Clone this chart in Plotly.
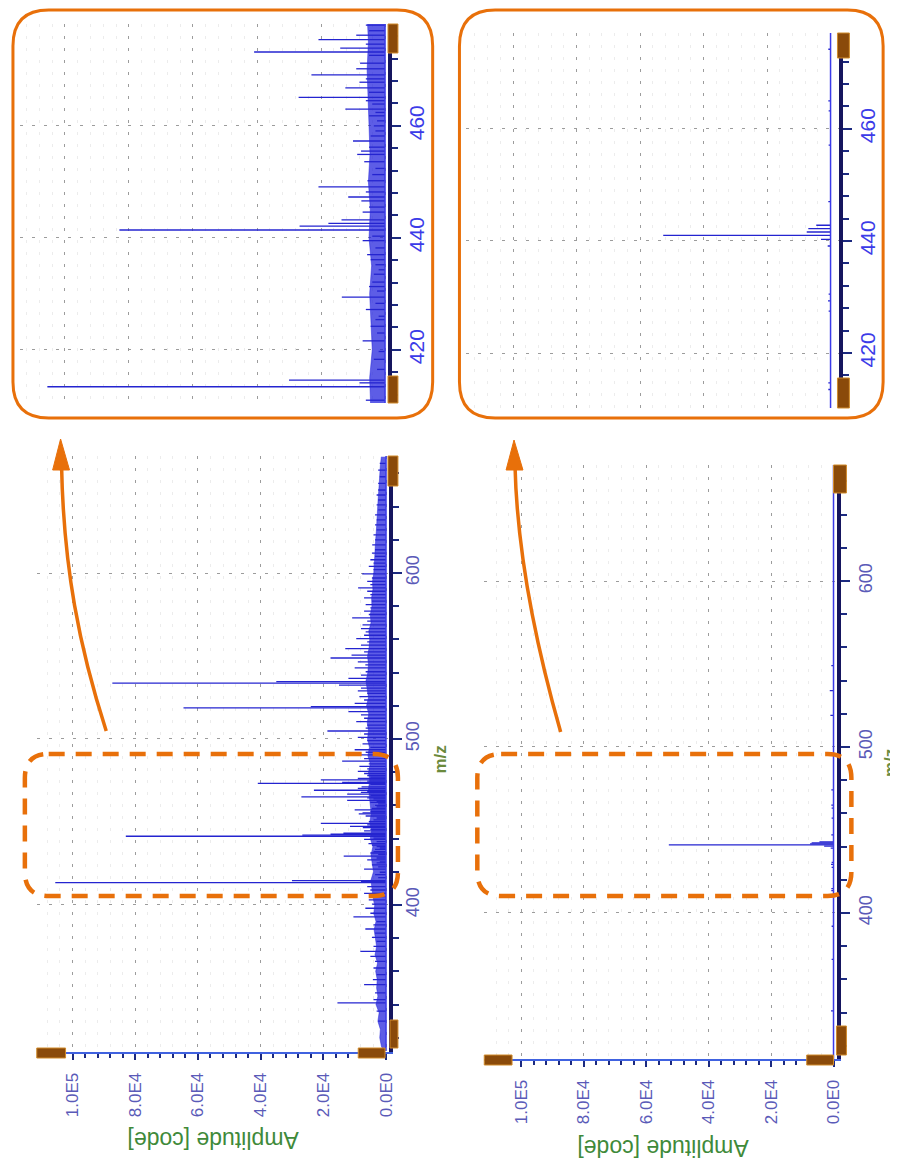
import plotly.graph_objects as go

W, H = 898, 1162


def px(x):
    return x / W


def py(y):
    return 1 - y / H


# ---------------- data ----------------
amp_ticks = [0, 20000, 40000, 60000, 80000, 100000]
amp_labels = ["0.0E0", "2.0E4", "4.0E4", "6.0E4", "8.0E4", "1.0E5"]
mz_ticks_main = [400, 500, 600]
mz_ticks_zoom = [420, 440, 460]

# spectrum 1 (top/left): peak positions (m/z) and amplitudes
spec1_mz = [
    330, 336, 341.0, 343, 347, 352.0, 355.0, 358, 362, 366, 369, 372.0, 375, 378,
    380.5, 383, 385.5, 388, 390, 392.8, 395, 398.0, 400.5, 403, 405, 407.0, 409, 411,
    413.4, 414.1, 414.6, 416.5, 418.3, 419.7, 421.6, 423.0, 424.2, 425.4, 426.0,
    427.2, 428.3, 429.4, 430.5, 431.3, 432.1, 433.5, 434.3, 435.2, 436.1, 437.0,
    438.2, 439.5, 440.3, 441.4, 442.1, 442.6, 443.2, 444.6, 445.5, 446.6, 447.3,
    448.2, 449.1, 450.2, 451.3, 452.4, 453.6, 454.9, 455.5, 456.2, 457.3, 458.2,
    459.1, 460.0, 460.9, 461.8, 462.4, 463.0, 463.9, 464.5, 465.1, 466.0, 466.8,
    467.8, 468.4, 469.1, 470.2, 471.2, 472.6, 473.2, 473.9, 474.6, 475.4, 476.2,
    477.0, 478.0,
    479.2, 480.5, 482, 483.5, 485, 486.7, 488.2, 490.4, 492, 493.5, 495, 497, 499,
    501, 503, 504.8, 506.5, 508.4, 510.5, 512.5, 514.5, 516.5, 518.7, 519.5, 521.5,
    523.5, 525.5, 527.5, 529, 530.7, 532.5, 533.7, 534.5, 536.5, 538.5, 540.5,
    542.8, 544.6, 546.5, 548.8, 550.5, 552.5, 554.5, 556.5, 558.5, 560.5, 562.5,
    564.5, 566.5, 568.7, 571, 573.0, 575, 577, 579, 581, 583, 585, 587, 589, 591.0,
    593, 595, 597, 599.5, 602, 604, 606, 608, 610, 612, 614, 617, 620, 623, 626,
    629, 632, 635, 638, 641, 644, 647, 650, 654, 658, 662, 666,
]
spec1_amp = [
    2500, 3000, 15500, 4000, 3500, 7000, 4200, 3000, 4000, 3500, 5000, 8200, 4000, 3000,
    4500, 3500, 6600, 4000, 3000, 10400, 5000, 6600, 4500, 5500, 4000, 7000, 5000, 6000,
    105500, 8000, 30000, 2500, 3500, 2000, 7000, 2500, 4500, 3000, 2000,
    6000, 3000, 13500, 2500, 5000, 4000, 3500, 2000, 3000, 4500, 5600,
    3000, 7000, 4000, 83000, 26700, 17700, 13600, 7000, 5000, 7400, 11500,
    6000, 20800, 5500, 4000, 3000, 6500, 8700, 7500, 5000, 10000, 4500,
    3000, 3500, 2500, 5000, 3000, 12400, 4000, 6000, 27000, 5000, 12400,
    8000, 6000, 23000, 9000, 7800, 5000, 40900, 14000, 6000, 20800, 9000,
    5000, 6000,
    7000, 9000, 6000, 8500, 5500, 14000, 7000, 8000, 6500, 10000, 5000, 7500, 6000,
    9000, 7000, 18700, 6500, 6000, 9500, 7000, 8000, 12000, 64600, 24000, 10000,
    7000, 8500, 6000, 9000, 8000, 15000, 87300, 35000, 12000, 8000, 6500,
    10000, 6600, 9000, 17700, 11000, 7000, 13000, 8000, 6000, 9500, 7000,
    6500, 8000, 7500, 6000, 10800, 5500, 7000, 5000, 6500, 4500, 7000, 5000, 6000, 8900,
    5000, 6000, 4500, 7600, 4000, 5500, 4000, 5000, 3500, 4500, 3500, 4400, 3500, 4000, 3000,
    3500, 3000, 3500, 2500, 3000, 2500, 3000, 2500, 2500, 2000, 2500, 2000,
]

# dense low-level signal envelope of spectrum 1
env1_mz = [
    312, 315, 320, 325, 330, 335, 340, 345, 350, 355, 360, 365, 370, 375, 380, 385,
    390, 395, 400, 405, 410, 415, 420, 425, 430, 435, 440, 445, 450, 455, 460, 465,
    470, 475, 480, 485, 490, 495, 500, 505, 510, 515, 520, 525, 530, 535, 540, 545,
    550, 555, 560, 565, 570, 575, 580, 585, 590, 595, 600, 605, 610, 615, 620, 625,
    630, 635, 640, 645, 650, 655, 660, 665, 670,
]
env1_amp = [
    800, 1500, 2000, 1800, 2600, 2200, 3200, 2600, 3000, 2800, 3300, 2700, 3500, 3000, 3400, 3800,
    3200, 3900, 3600, 4200, 4500, 4800, 4000, 4400, 4800, 4200, 5000, 4600, 5200, 4700, 5000, 5400,
    5600, 5200, 5600, 5000, 5800, 5300, 5900, 5600, 6000, 5500, 6200, 5600, 6000, 6400, 5800, 5600,
    5900, 5400, 5200, 5500, 4800, 5000, 4500, 4600, 4200, 4300, 3900, 3800, 3500, 3600, 3300, 3100,
    3000, 2800, 2600, 2500, 2300, 2200, 2000, 1800, 1500,
]

# spectrum 2 (bottom/right)
spec2_mz = [341, 372, 392, 413.5, 414.7, 427.5, 429.3, 430.5, 439.1, 440.3, 441.0,
            441.6, 442.2, 442.8, 447.0, 457.1, 463.2, 465.0, 474.2, 519, 534, 549]
spec2_amp = [800, 600, 600, 700, 700, 600, 800, 600, 900, 3000, 52700,
             7500, 7000, 4500, 700, 600, 600, 700, 700, 1000, 1200, 700]


# ---------------- helpers ----------------
def sticks(mz, amp):
    xs, ys = [], []
    for m, a in zip(mz, amp):
        xs += [0, a, None]
        ys += [m, m, None]
    return xs, ys


ORANGE = "#e8700a"
BROWN = "#8a4a0a"
TICKBLUE = "#5a5ab8"
ZOOMBLUE = "#3b3be8"
SPEC = "#2424d0"
FONT = "Liberation Sans, Arial, sans-serif"

fig = go.Figure()

s1x, s1y = sticks(spec1_mz, spec1_amp)
s2x, s2y = sticks(spec2_mz, spec2_amp)

panels = [
    ("x", "y", True, [312, 670.5]),
    ("x3", "y3", True, [410.5, 478.2]),
    ("x2", "y2", False, [312, 670]),
    ("x4", "y4", False, [410.2, 477.1]),
]
for xa, ya, first, yr in panels:
    if first:
        fig.add_trace(go.Scatter(x=env1_amp, y=env1_mz, xaxis=xa, yaxis=ya, mode="lines",
                                 fill="tozerox", fillcolor="rgba(30,30,220,0.72)",
                                 line=dict(color="rgba(30,30,220,0.8)", width=0.6),
                                 hoverinfo="skip", showlegend=False))
        fig.add_trace(go.Scatter(x=s1x, y=s1y, xaxis=xa, yaxis=ya, mode="lines",
                                 line=dict(color=SPEC, width=1.3), showlegend=False))
    else:
        fig.add_trace(go.Scatter(x=s2x, y=s2y, xaxis=xa, yaxis=ya, mode="lines",
                                 line=dict(color=SPEC, width=1.3), showlegend=False))
    fig.add_trace(go.Scatter(x=[0, 0], y=yr, xaxis=xa, yaxis=ya, mode="lines",
                             line=dict(color="#3a3ae8", width=1.5), showlegend=False,
                             hoverinfo="skip"))


def amp_axis(x0, x1, rng, anchor, labels):
    d = dict(domain=[px(x0), px(x1)], range=rng, anchor=anchor, zeroline=False,
             showgrid=True, gridcolor="#9c9c9c", griddash="3px,9px", gridwidth=1,
             tickvals=amp_ticks, ticktext=amp_labels, fixedrange=True,
             minor=dict(tick0=0, dtick=4000, showgrid=True, gridcolor="#ececec",
                        gridwidth=1))
    if labels:
        d.update(showline=True, linecolor="#4062e0", linewidth=2, ticks="outside",
                 ticklen=6, tickcolor="#1c2a80", tickwidth=1.5, tickangle=-90,
                 ticklabelstandoff=6,
                 tickfont=dict(family=FONT, size=17, color=TICKBLUE))
        d["minor"].update(ticks="outside", ticklen=4, tickcolor="#1c2a80")
    else:
        d.update(showline=False, showticklabels=False, ticks="")
    return d


def mz_axis(y0, y1, rng, anchor, tickvals, mdt, size, color, standoff):
    return dict(domain=[py(y1), py(y0)], range=rng, anchor=anchor, side="right",
                zeroline=False, showgrid=True, gridcolor="#9c9c9c", griddash="3px,9px",
                gridwidth=1, tickvals=tickvals, ticktext=[str(v) for v in tickvals],
                showline=True, linecolor="#15155e", linewidth=4, ticks="outside",
                ticklen=9, tickcolor="#1c2a80", tickwidth=1.5, tickangle=-90,
                ticklabelstandoff=standoff, fixedrange=True,
                tickfont=dict(family=FONT, size=size, color=color),
                minor=dict(tick0=0, dtick=mdt, ticks="outside", ticklen=6,
                           tickcolor="#1c2a80"))


fig.update_layout(
    width=W, height=H, margin=dict(l=0, r=0, t=0, b=0),
    paper_bgcolor="white", plot_bgcolor="white", showlegend=False,
    xaxis=amp_axis(29, 384, [111400, -950], "y", True),
    yaxis=mz_axis(448, 1044, [311.4, 670.5], "x", mz_ticks_main, 20, 18, TICKBLUE, -5),
    xaxis2=amp_axis(480, 836, [111760, -1270], "y2", True),
    yaxis2=mz_axis(457, 1051, [312.0, 669.9], "x2", mz_ticks_main, 20, 18, TICKBLUE, 0),
    xaxis3=amp_axis(12, 383, [114080, -930], "y3", False),
    yaxis3=mz_axis(16, 395, [410.5, 478.2], "x3", mz_ticks_zoom, 4, 21, ZOOMBLUE, -2),
    xaxis4=amp_axis(462, 838, [114690, -2810], "y4", False),
    yaxis4=mz_axis(25, 400, [410.2, 477.1], "x4", mz_ticks_zoom, 4, 21, ZOOMBLUE, -3),
)

# axis titles (rotated with the figure)
ann = []
for (x, y) in [(435, 752), (889, 755)]:
    ann.append(dict(x=px(x), y=py(y), xref="paper", yref="paper", text="<b>m/z</b>",
                    xanchor="center", yanchor="middle",
                    textangle=-90, showarrow=False,
                    font=dict(family=FONT, size=17, color="#6b8a3c")))
for (x, y) in [(207, 1132), (660, 1140)]:
    ann.append(dict(x=px(x), y=py(y), xref="paper", yref="paper", text="Amplitude [code]",
                    xanchor="center", yanchor="middle",
                    textangle=180, showarrow=False,
                    font=dict(family=FONT, size=23, color="#3f8a3a")))
fig.update_layout(annotations=ann)


# ---------------- decorations ----------------
def rrect(x0, y0, x1, y1, r):
    rx, ry = r / W, r / H
    X0, X1, Y0, Y1 = px(x0), px(x1), py(y0), py(y1)
    return (f"M {X0+rx},{Y0} L {X1-rx},{Y0} Q {X1},{Y0} {X1},{Y0-ry} "
            f"L {X1},{Y1+ry} Q {X1},{Y1} {X1-rx},{Y1} L {X0+rx},{Y1} "
            f"Q {X0},{Y1} {X0},{Y1+ry} L {X0},{Y0-ry} Q {X0},{Y0} {X0+rx},{Y0} Z")


shapes = []
# inset frames
for (x0, y0, x1, y1) in [(5, 2, 428, 410), (455, 2, 882, 410)]:
    shapes.append(dict(type="path", xref="paper", yref="paper", path=rrect(x0, y0, x1, y1, 36),
                       line=dict(color=ORANGE, width=3)))
# dashed zoom windows
for (x0, y0, x1, y1) in [(17, 746, 393, 888), (473, 746, 850, 888)]:
    shapes.append(dict(type="path", xref="paper", yref="paper", path=rrect(x0, y0, x1, y1, 24),
                       line=dict(color=ORANGE, width=4.5, dash="16px,11px")))
# curved arrows
for (p0, c1, c2, p1, tip, bl, br) in [
    ((99, 723), (72, 640), (56, 560), (54, 458), (53, 431), (45, 462), (62, 462)),
    ((557, 724), (530, 630), (513, 540), (511, 458), (510, 432), (502, 462), (519, 462)),
]:
    path = (f"M {px(p0[0])},{py(p0[1])} C {px(c1[0])},{py(c1[1])} "
            f"{px(c2[0])},{py(c2[1])} {px(p1[0])},{py(p1[1])}")
    shapes.append(dict(type="path", xref="paper", yref="paper", path=path,
                       line=dict(color=ORANGE, width=3.5)))
    head = (f"M {px(tip[0])},{py(tip[1])} L {px(bl[0])},{py(bl[1])} "
            f"L {px(br[0])},{py(br[1])} Z")
    shapes.append(dict(type="path", xref="paper", yref="paper", path=head,
                       fillcolor=ORANGE, line=dict(color=ORANGE, width=1)))
# slider handles
for (x0, y0, x1, y1) in [
    (29, 1040, 58, 1050), (353, 1040, 380, 1050), (385, 1012, 393, 1040), (383, 448, 393, 478),
    (480, 1047, 508, 1057), (805, 1047, 832, 1057), (835, 1018, 845, 1047), (832, 457, 845, 485),
    (383, 16, 393, 45), (383, 368, 393, 395),
    (836, 25, 848, 50), (836, 370, 848, 400),
]:
    shapes.append(dict(type="rect", xref="paper", yref="paper", x0=px(x0), x1=px(x1),
                       y0=py(y1), y1=py(y0), fillcolor=BROWN,
                       line=dict(color="#d08a2a", width=1)))
fig.update_layout(shapes=shapes)

fig.write_html("out.html")
